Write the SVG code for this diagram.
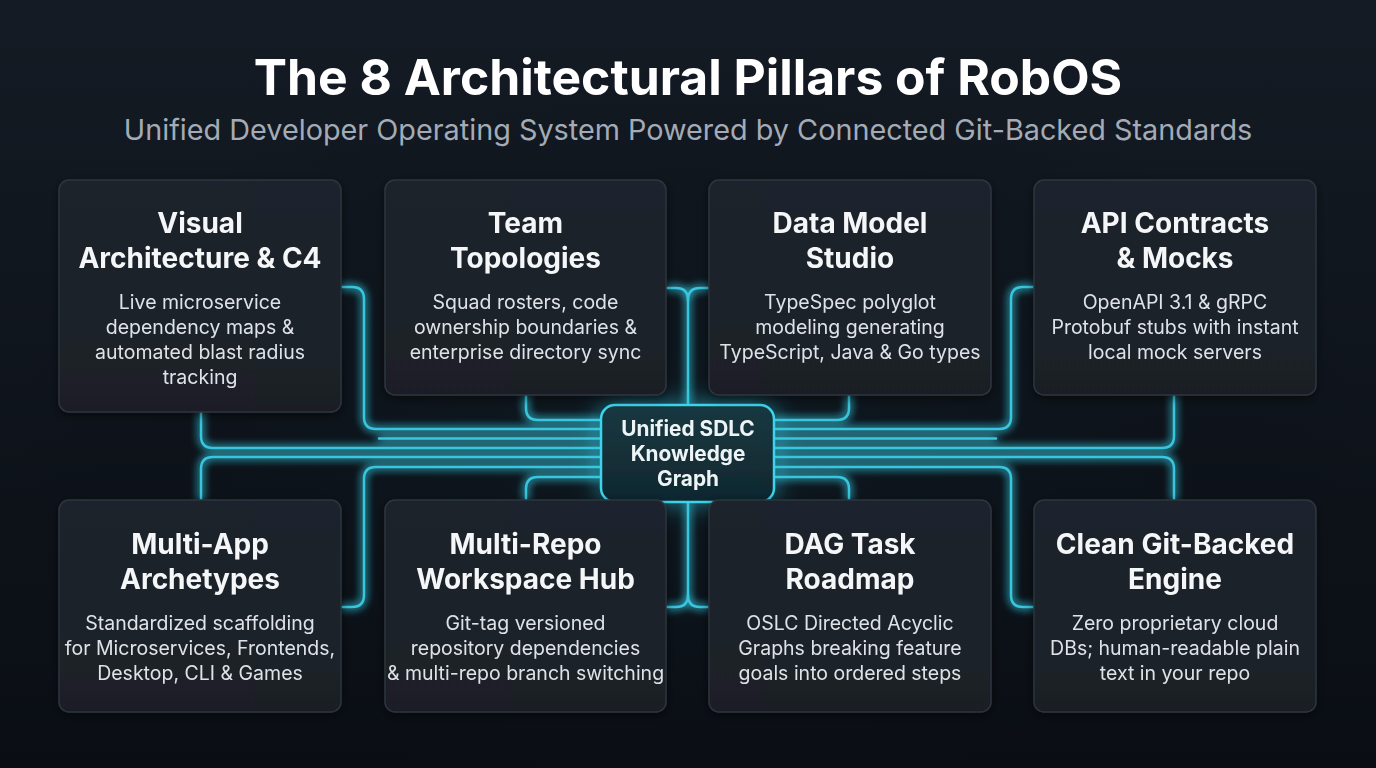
<svg xmlns="http://www.w3.org/2000/svg" width="1376" height="768" viewBox="0 0 1376 768">
<defs>
<linearGradient id="bg" x1="0" y1="0" x2="0" y2="1">
<stop offset="0" stop-color="#141b24"/>
<stop offset="1" stop-color="#0a0e14"/>
</linearGradient>
<radialGradient id="bgGlow" cx="0.5" cy="0.58" r="0.5">
<stop offset="0" stop-color="#0e1a22" stop-opacity="0.9"/>
<stop offset="1" stop-color="#0a0e14" stop-opacity="0"/>
</radialGradient>
<linearGradient id="card" x1="0" y1="0" x2="0" y2="1">
<stop offset="0" stop-color="#1e242d"/>
<stop offset="1" stop-color="#1a1f27"/>
</linearGradient>
<linearGradient id="hub" x1="0" y1="0" x2="0" y2="1">
<stop offset="0" stop-color="#173841"/>
<stop offset="1" stop-color="#10272f"/>
</linearGradient>
<filter id="glow" x="-20%" y="-20%" width="140%" height="140%">
<feGaussianBlur in="SourceGraphic" stdDeviation="4" result="b"/>
<feMerge><feMergeNode in="b"/><feMergeNode in="b"/><feMergeNode in="SourceGraphic"/></feMerge>
</filter>
<filter id="hubGlow" x="-40%" y="-50%" width="180%" height="200%">
<feGaussianBlur in="SourceAlpha" stdDeviation="12" result="a"/>
<feFlood flood-color="#2fd0ea" flood-opacity="0.55"/>
<feComposite in2="a" operator="in" result="g"/>
<feMerge><feMergeNode in="g"/><feMergeNode in="SourceGraphic"/></feMerge>
</filter>
<filter id="shadow" x="-10%" y="-10%" width="120%" height="120%">
<feDropShadow dx="0" dy="3" stdDeviation="5" flood-color="#000" flood-opacity="0.5"/>
</filter>
<style>
.conn path{fill:none;stroke:#38c6de;stroke-width:2.5;stroke-linecap:round}
.card rect{fill:url(#card);stroke:#2d343e;stroke-width:1.5}
.t{font-family:Inter,"Noto Sans","Liberation Sans",sans-serif;font-weight:700;font-size:28px;fill:#f4f6f8;text-anchor:middle}
.d{font-family:Inter,"Noto Sans","Liberation Sans",sans-serif;font-weight:400;font-size:19.5px;fill:#dfe3e8;text-anchor:middle}
.h{font-family:Inter,"Noto Sans","Liberation Sans",sans-serif;font-weight:700;font-size:20.8px;fill:#eef3f5;text-anchor:middle}
</style>
</defs>
<rect width="1376" height="768" fill="url(#bg)"/>
<rect width="1376" height="768" fill="url(#bgGlow)"/>

<text x="688" y="95" font-family="Inter,'Noto Sans','Liberation Sans',sans-serif" font-weight="700" font-size="49.8" fill="#ffffff" text-anchor="middle">The 8 Architectural Pillars of RobOS</text>
<text x="688" y="140" font-family="Inter,'Noto Sans','Liberation Sans',sans-serif" font-size="28.8" fill="#a3abb6" text-anchor="middle">Unified Developer Operating System Powered by Connected Git-Backed Standards</text>

<g id="connectors" class="conn" filter="url(#glow)">
<path d="M341,287 H352 Q364,287 364,299 V417 Q364,429 376,429 H601"/>
<path d="M379,438.5 H601"/>
<path d="M201,412 V436 Q201,448 213,448 H601"/>
<path d="M201,500 V469 Q201,457 213,457 H601"/>
<path d="M341,607 H352 Q364,607 364,595 V479 Q364,467 376,467 H601"/>
<path d="M526,395 V408 Q526,420 538,420 H601"/>
<path d="M526,500 V489 Q526,477 538,477 H601"/>
<path d="M1034,287 H1023 Q1011,287 1011,299 V417 Q1011,429 999,429 H774"/>
<path d="M996,438.5 H774"/>
<path d="M1174,395 V436 Q1174,448 1162,448 H774"/>
<path d="M1174,500 V469 Q1174,457 1162,457 H774"/>
<path d="M1034,607 H1023 Q1011,607 1011,595 V479 Q1011,467 999,467 H774"/>
<path d="M849,395 V408 Q849,420 837,420 H774"/>
<path d="M849,500 V489 Q849,477 837,477 H774"/>
<path d="M666,288 H676 Q688,288 688,300 V405"/>
<path d="M709,288 H700 Q688,288 688,300"/>
<path d="M688,502 V595 Q688,607 676,607 H666"/>
<path d="M688,595 Q688,607 700,607 H709"/>
</g>

<g id="hub" filter="url(#hubGlow)">
<rect x="601" y="405" width="173" height="97" rx="14" fill="url(#hub)" stroke="#3dd3ec" stroke-width="2.5"/>
<text class="h" x="688" y="436">Unified SDLC</text>
<text class="h" x="688" y="461">Knowledge</text>
<text class="h" x="688" y="486">Graph</text>
</g>

<g id="card1" class="card" filter="url(#shadow)">
<rect x="59" y="180" width="282" height="232" rx="10"/>
<text class="t" x="200" y="233">Visual</text>
<text class="t" x="200" y="268">Architecture &amp; C4</text>
<text class="d" x="200" y="309">Live microservice</text>
<text class="d" x="200" y="334">dependency maps &amp;</text>
<text class="d" x="200" y="359">automated blast radius</text>
<text class="d" x="200" y="384">tracking</text>
</g>
<g id="card2" class="card" filter="url(#shadow)">
<rect x="385" y="180" width="281" height="215" rx="10"/>
<text class="t" x="525.5" y="233">Team</text>
<text class="t" x="525.5" y="268">Topologies</text>
<text class="d" x="525.5" y="309">Squad rosters, code</text>
<text class="d" x="525.5" y="334">ownership boundaries &amp;</text>
<text class="d" x="525.5" y="359">enterprise directory sync</text>
</g>
<g id="card3" class="card" filter="url(#shadow)">
<rect x="709" y="180" width="282" height="215" rx="10"/>
<text class="t" x="850" y="233">Data Model</text>
<text class="t" x="850" y="268">Studio</text>
<text class="d" x="850" y="309">TypeSpec polyglot</text>
<text class="d" x="850" y="334">modeling generating</text>
<text class="d" x="850" y="359">TypeScript, Java &amp; Go types</text>
</g>
<g id="card4" class="card" filter="url(#shadow)">
<rect x="1034" y="180" width="282" height="215" rx="10"/>
<text class="t" x="1175" y="233">API Contracts</text>
<text class="t" x="1175" y="268">&amp; Mocks</text>
<text class="d" x="1175" y="309">OpenAPI 3.1 &amp; gRPC</text>
<text class="d" x="1175" y="334">Protobuf stubs with instant</text>
<text class="d" x="1175" y="359">local mock servers</text>
</g>
<g id="card5" class="card" filter="url(#shadow)">
<rect x="59" y="500" width="282" height="212" rx="10"/>
<text class="t" x="200" y="554">Multi-App</text>
<text class="t" x="200" y="589">Archetypes</text>
<text class="d" x="200" y="630">Standardized scaffolding</text>
<text class="d" x="200" y="655">for Microservices, Frontends,</text>
<text class="d" x="200" y="680">Desktop, CLI &amp; Games</text>
</g>
<g id="card6" class="card" filter="url(#shadow)">
<rect x="385" y="500" width="281" height="212" rx="10"/>
<text class="t" x="525.5" y="554">Multi-Repo</text>
<text class="t" x="525.5" y="589">Workspace Hub</text>
<text class="d" x="525.5" y="630">Git-tag versioned</text>
<text class="d" x="525.5" y="655">repository dependencies</text>
<text class="d" x="525.5" y="680">&amp; multi-repo branch switching</text>
</g>
<g id="card7" class="card" filter="url(#shadow)">
<rect x="709" y="500" width="282" height="212" rx="10"/>
<text class="t" x="850" y="554">DAG Task</text>
<text class="t" x="850" y="589">Roadmap</text>
<text class="d" x="850" y="630">OSLC Directed Acyclic</text>
<text class="d" x="850" y="655">Graphs breaking feature</text>
<text class="d" x="850" y="680">goals into ordered steps</text>
</g>
<g id="card8" class="card" filter="url(#shadow)">
<rect x="1034" y="500" width="282" height="212" rx="10"/>
<text class="t" x="1175" y="554">Clean Git-Backed</text>
<text class="t" x="1175" y="589">Engine</text>
<text class="d" x="1175" y="630">Zero proprietary cloud</text>
<text class="d" x="1175" y="655">DBs; human-readable plain</text>
<text class="d" x="1175" y="680">text in your repo</text>
</g>
</svg>
